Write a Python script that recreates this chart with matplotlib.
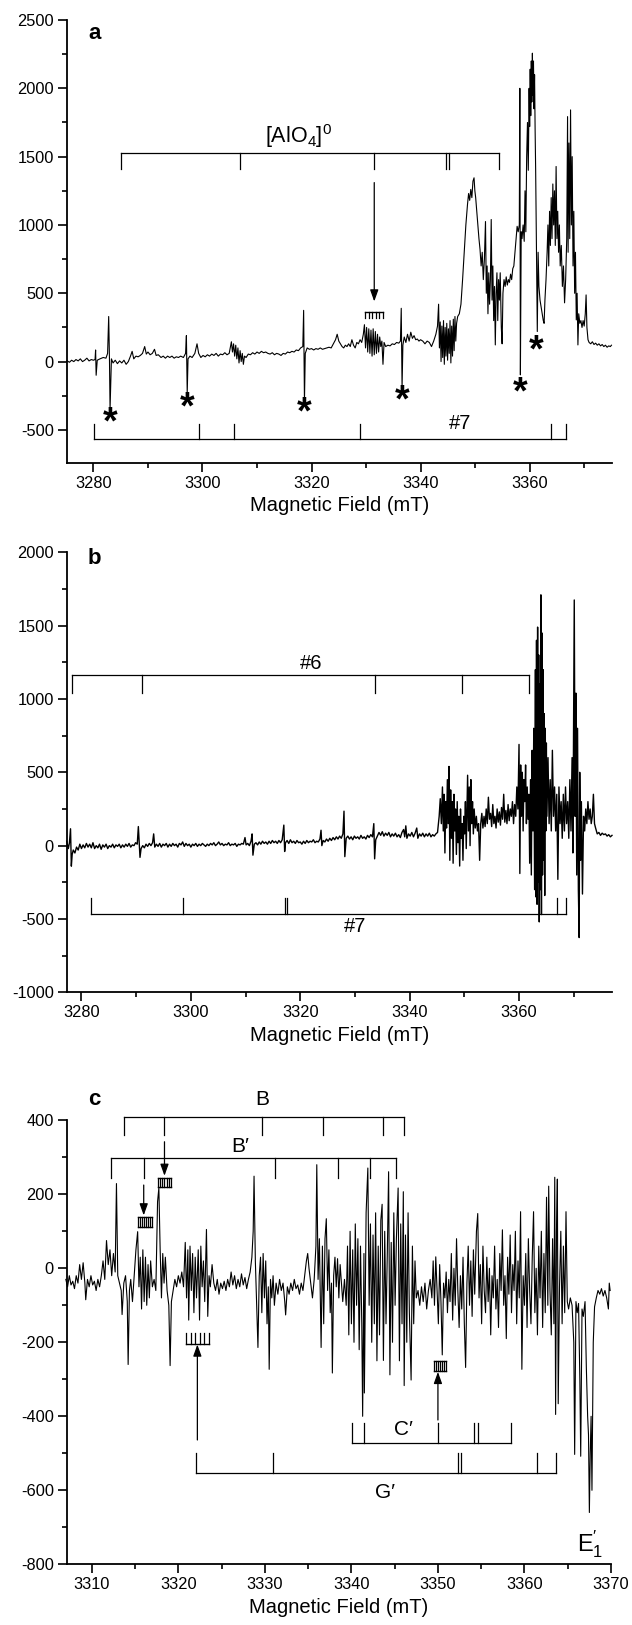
import numpy as np
import matplotlib
matplotlib.use("Agg")
import matplotlib.pyplot as plt
from matplotlib.ticker import MultipleLocator

plt.rcParams['font.family'] = ['Liberation Sans', 'DejaVu Sans']
plt.rcParams['mathtext.fontset'] = 'custom'
plt.rcParams['mathtext.rm'] = 'Liberation Sans'
plt.rcParams['mathtext.it'] = 'Liberation Sans:italic'
plt.rcParams['mathtext.bf'] = 'Liberation Sans:bold'
plt.rcParams['axes.unicode_minus'] = False

# ---------------- panel a data ----------------
a_field = [
    3275.2, 3275.6, 3276.0, 3276.4, 3276.8, 3277.2, 3277.6, 3278.0, 3278.4, 3278.8,
    3279.2, 3279.6, 3280.0, 3280.3, 3280.4, 3280.5, 3280.7, 3281.2, 3281.8, 3282.3,
    3282.6, 3282.8, 3282.95, 3283.05, 3283.3, 3283.6, 3284.0, 3284.4, 3284.8, 3285.2,
    3285.6, 3286.0, 3286.4, 3286.8, 3287.1, 3287.4, 3287.8, 3288.2, 3288.6, 3289.0,
    3289.4, 3289.7, 3290.0, 3290.4, 3290.8, 3291.2, 3291.5, 3291.9, 3292.4, 3292.8,
    3293.2, 3293.6, 3294.0, 3294.4, 3294.8, 3295.2, 3295.6, 3296.0, 3296.5, 3296.9,
    3297.05, 3297.2, 3297.35, 3297.7, 3298.1, 3298.6, 3299.0, 3299.3, 3299.7, 3300.1,
    3300.5, 3300.9, 3301.3, 3301.7, 3302.1, 3302.5, 3302.9, 3303.3, 3303.7, 3304.1,
    3304.5, 3304.9, 3305.3, 3305.5, 3305.7, 3305.9, 3306.1, 3306.3, 3306.5, 3306.7,
    3306.9, 3307.1, 3307.3, 3307.5, 3307.7, 3308.0, 3308.4, 3308.8, 3309.2, 3309.6,
    3310.0, 3310.4, 3310.8, 3311.2, 3311.6, 3312.0, 3312.4, 3312.8, 3313.2, 3313.6,
    3314.0, 3314.4, 3314.8, 3315.2, 3315.6, 3316.0, 3316.4, 3316.8, 3317.2, 3317.6,
    3318.0, 3318.4, 3318.55, 3318.7, 3318.85, 3319.2, 3319.6, 3320.0, 3320.4, 3320.8,
    3321.2, 3321.6, 3322.0, 3322.4, 3322.8, 3323.2, 3323.6, 3324.0, 3324.4, 3324.7,
    3325.0, 3325.3, 3325.6, 3325.9, 3326.2, 3326.5, 3326.8, 3327.1, 3327.4, 3327.7,
    3328.0, 3328.3, 3328.6, 3328.9, 3329.2, 3329.5, 3329.7, 3329.9, 3330.1, 3330.3,
    3330.5, 3330.7, 3330.9, 3331.1, 3331.3, 3331.5, 3331.7, 3331.9, 3332.1, 3332.3,
    3332.5, 3332.7, 3332.9, 3333.1, 3333.3, 3333.6, 3334.0, 3334.4, 3334.8, 3335.2,
    3335.6, 3336.0, 3336.3, 3336.45, 3336.6, 3336.75, 3337.0, 3337.3, 3337.6, 3337.9,
    3338.2, 3338.5, 3338.8, 3339.1, 3339.4, 3339.7, 3340.0, 3340.4, 3340.8, 3341.2,
    3341.6, 3342.0, 3342.4, 3342.8, 3343.1, 3343.3, 3343.45, 3343.6, 3343.75, 3343.9,
    3344.05, 3344.2, 3344.35, 3344.5, 3344.65, 3344.8, 3344.95, 3345.1, 3345.25, 3345.4,
    3345.55, 3345.7, 3345.85, 3346.0, 3346.15, 3346.3, 3346.45, 3346.6, 3346.8, 3347.1,
    3347.4, 3347.7, 3348.0, 3348.3, 3348.6, 3348.8, 3349.0, 3349.2, 3349.4, 3349.6,
    3349.8, 3349.95, 3350.1, 3350.3, 3350.5, 3350.7, 3350.9, 3351.1, 3351.3, 3351.5,
    3351.7, 3351.9, 3352.05, 3352.2, 3352.35, 3352.5, 3352.65, 3352.8, 3352.95, 3353.1,
    3353.25, 3353.4, 3353.55, 3353.7, 3353.85, 3354.0, 3354.15, 3354.3, 3354.45, 3354.6,
    3354.8, 3354.95, 3355.1, 3355.3, 3355.5, 3355.7, 3355.9, 3356.1, 3356.3, 3356.5,
    3356.7, 3356.9, 3357.1, 3357.3, 3357.5, 3357.7, 3357.9, 3358.1, 3358.2, 3358.3,
    3358.45, 3358.6, 3358.8, 3359.0, 3359.15, 3359.3, 3359.45, 3359.6, 3359.75, 3359.9,
    3360.0, 3360.1, 3360.2, 3360.3, 3360.4, 3360.5, 3360.6, 3360.7, 3360.8, 3360.9,
    3361.0, 3361.1, 3361.2, 3361.4, 3361.55, 3361.7, 3361.9, 3362.1, 3362.3, 3362.5,
    3362.65, 3362.8, 3363.0, 3363.2, 3363.35, 3363.5, 3363.65, 3363.8, 3363.95, 3364.1,
    3364.25, 3364.4, 3364.55, 3364.7, 3364.85, 3365.0, 3365.15, 3365.3, 3365.45, 3365.6,
    3365.8, 3366.0, 3366.2, 3366.4, 3366.6, 3366.8, 3366.95, 3367.05, 3367.2, 3367.35,
    3367.5, 3367.65, 3367.8, 3367.95, 3368.1, 3368.25, 3368.4, 3368.55, 3368.7, 3368.85,
    3369.0, 3369.2, 3369.4, 3369.6, 3369.8, 3370.0, 3370.2, 3370.35, 3370.5, 3370.7,
    3370.9, 3371.2, 3371.5, 3371.8, 3372.1, 3372.4, 3372.7, 3373.0, 3373.3, 3373.6,
    3373.9, 3374.2, 3374.5, 3374.8, 3375.0,
]
a_signal = [
    5, -5, 10, 0, 15, 5, 20, 0, 10, 25,
    5, 15, 10, 15, 85, -100, 10, 20, 30, 25,
    60, 330, 0, -350, 20, -10, 10, -15, 5, -10,
    10, -20, 0, 40, 75, 20, 40, 35, 45, 60,
    110, 55, 70, 50, 60, 90, 45, 50, 30, 40,
    25, 40, 30, 40, 25, 35, 30, 40, 30, 60,
    190, -230, 20, 40, 30, 60, 130, 60, 30, 45,
    35, 50, 40, 55, 45, 60, 40, 55, 50, 65,
    50, 60, 145, 70, 130, 40, 120, 20, 100, -10,
    80, 0, 60, -20, 40, 30, 55, 50, 65, 55,
    70, 60, 75, 65, 70, 60, 55, 65, 50, 60,
    55, 45, 60, 55, 70, 65, 75, 70, 85, 80,
    100, 110, 375, -290, 60, 100, 90, 95, 85, 95,
    90, 100, 90, 95, 100, 105, 100, 130, 160, 200,
    150, 130, 110, 100, 120, 110, 130, 110, 160, 120,
    100, 140, 130, 160, 140, 200, 270, 100, 250, 70,
    240, 60, 230, 40, 240, 50, 220, 60, 200, 70,
    180, 110, 150, -20, 140, 110, 120, 115, 130, 125,
    140, 135, 150, 390, -190, 120, 180, 140, 200, 150,
    215, 170, 190, 160, 165, 150, 160, 150, 130, 150,
    140, 110, 150, 200, 260, 420, 100, 290, 0, 260,
    30, 300, -20, 250, 40, 280, 10, 240, 60, 300,
    -10, 260, 40, 310, 80, 330, 150, 280, 330, 350,
    420, 600, 800, 1000, 1150, 1230, 1180, 1260, 1200, 1320,
    1345, 1250, 1200, 1100, 1000, 900, 820, 700, 800, 600,
    750, 1025, 500, 700, 350, 650, 420, 600, 1040, 450,
    700, 300, 550, 122, 500, 650, 300, 600, 450, 650,
    250, 130, 500, 600, 550, 620, 560, 600, 580, 640,
    600, 680, 700, 800, 900, 990, 950, 1000, 2000, -97,
    950, 900, 1000, 880, 1250, 950, 1500, 1750, 1400, 2000,
    1720, 2140, 1800, 2200, 1900, 2257, 1950, 2200, 1850, 2100,
    1700, 1400, 1000, 220, 800, 550, 450, 400, 350, 300,
    280, 450, 600, 800, 1000, 700, 1100, 850, 1200, 900,
    1300, 1000, 1250, 850, 1428, 900, 1100, 800, 1000, 700,
    850, 550, 700, 430, 600, 900, 1793, 800, 1600, 900,
    1842, 1000, 1500, 700, 1100, 500, 800, 305, 500, 122,
    350, 280, 300, 250, 300, 260, 350, 488, 250, 160,
    140, 130, 145, 125, 135, 120, 130, 115, 125, 110,
    120, 105, 115, 110, 120,
]

# ---------------- panel b data ----------------
b_field = [
    3277.3, 3277.6, 3277.8, 3278.0, 3278.15, 3278.3, 3278.5, 3278.8, 3279.1, 3279.4,
    3279.7, 3280.0, 3280.3, 3280.6, 3280.9, 3281.2, 3281.5, 3281.8, 3282.1, 3282.4,
    3282.7, 3283.0, 3283.3, 3283.6, 3283.9, 3284.2, 3284.5, 3284.8, 3285.1, 3285.4,
    3285.7, 3286.0, 3286.3, 3286.6, 3286.9, 3287.2, 3287.5, 3287.8, 3288.1, 3288.4,
    3288.7, 3289.0, 3289.3, 3289.6, 3289.9, 3290.2, 3290.4, 3290.55, 3290.7, 3290.9,
    3291.2, 3291.5, 3291.8, 3292.1, 3292.4, 3292.7, 3293.0, 3293.2, 3293.4, 3293.7,
    3294.0, 3294.3, 3294.6, 3294.9, 3295.2, 3295.5, 3295.8, 3296.1, 3296.4, 3296.7,
    3297.0, 3297.3, 3297.6, 3297.9, 3298.2, 3298.5, 3298.8, 3299.1, 3299.4, 3299.7,
    3300.0, 3300.3, 3300.6, 3300.9, 3301.2, 3301.5, 3301.8, 3302.1, 3302.4, 3302.7,
    3303.0, 3303.3, 3303.6, 3303.9, 3304.2, 3304.5, 3304.8, 3305.1, 3305.4, 3305.7,
    3306.0, 3306.3, 3306.6, 3306.9, 3307.2, 3307.5, 3307.8, 3308.1, 3308.4, 3308.7,
    3309.0, 3309.3, 3309.6, 3309.9, 3310.1, 3310.4, 3310.7, 3311.0, 3311.2, 3311.35,
    3311.6, 3311.9, 3312.2, 3312.5, 3312.8, 3313.1, 3313.4, 3313.7, 3314.0, 3314.3,
    3314.6, 3314.9, 3315.2, 3315.5, 3315.8, 3316.1, 3316.4, 3316.7, 3317.0, 3317.15,
    3317.3, 3317.6, 3317.9, 3318.2, 3318.5, 3318.8, 3319.1, 3319.4, 3319.7, 3320.0,
    3320.3, 3320.6, 3320.9, 3321.2, 3321.5, 3321.8, 3322.1, 3322.4, 3322.7, 3323.0,
    3323.3, 3323.6, 3323.8, 3323.95, 3324.2, 3324.5, 3324.8, 3325.1, 3325.4, 3325.7,
    3326.0, 3326.3, 3326.6, 3326.9, 3327.2, 3327.5, 3327.8, 3328.0, 3328.15, 3328.4,
    3328.7, 3329.0, 3329.3, 3329.6, 3329.9, 3330.2, 3330.5, 3330.8, 3331.1, 3331.4,
    3331.7, 3332.0, 3332.3, 3332.6, 3332.9, 3333.2, 3333.45, 3333.6, 3333.8, 3334.1,
    3334.4, 3334.7, 3335.0, 3335.3, 3335.6, 3335.9, 3336.2, 3336.5, 3336.8, 3337.1,
    3337.4, 3337.7, 3338.0, 3338.3, 3338.6, 3338.9, 3339.1, 3339.3, 3339.5, 3339.8,
    3340.1, 3340.4, 3340.7, 3341.0, 3341.3, 3341.5, 3341.8, 3342.1, 3342.4, 3342.7,
    3343.0, 3343.3, 3343.6, 3343.9, 3344.2, 3344.5, 3344.8, 3345.1, 3345.4, 3345.6,
    3345.8, 3346.0, 3346.15, 3346.3, 3346.45, 3346.6, 3346.75, 3346.9, 3347.05, 3347.2,
    3347.35, 3347.5, 3347.65, 3347.8, 3347.95, 3348.1, 3348.25, 3348.4, 3348.55, 3348.7,
    3348.85, 3349.0, 3349.15, 3349.3, 3349.45, 3349.6, 3349.75, 3349.9, 3350.05, 3350.2,
    3350.35, 3350.6, 3350.75, 3350.9, 3351.05, 3351.2, 3351.35, 3351.5, 3351.65, 3351.8,
    3352.0, 3352.2, 3352.4, 3352.6, 3352.8, 3353.0, 3353.2, 3353.4, 3353.6, 3353.8,
    3354.0, 3354.2, 3354.4, 3354.6, 3354.8, 3355.0, 3355.2, 3355.4, 3355.6, 3355.8,
    3356.0, 3356.2, 3356.4, 3356.6, 3356.8, 3357.0, 3357.2, 3357.4, 3357.6, 3357.8,
    3358.0, 3358.2, 3358.4, 3358.6, 3358.8, 3359.0, 3359.2, 3359.4, 3359.6, 3359.8,
    3360.0, 3360.15, 3360.3, 3360.45, 3360.6, 3360.75, 3360.9, 3361.05, 3361.2, 3361.35,
    3361.5, 3361.65, 3361.8, 3361.95, 3362.1, 3362.25, 3362.4, 3362.55, 3362.7, 3362.85,
    3363.0, 3363.1, 3363.2, 3363.3, 3363.4, 3363.5, 3363.6, 3363.7, 3363.8, 3363.9,
    3364.0, 3364.1, 3364.2, 3364.3, 3364.4, 3364.5, 3364.6, 3364.7, 3364.8, 3364.9,
    3365.0, 3365.1, 3365.3, 3365.5, 3365.7, 3365.9, 3366.1, 3366.3, 3366.5, 3366.7,
    3366.9, 3367.1, 3367.3, 3367.5, 3367.7, 3367.9, 3368.1, 3368.3, 3368.5, 3368.7,
    3368.9, 3369.1, 3369.3, 3369.5, 3369.7, 3369.85, 3370.0, 3370.1, 3370.25, 3370.4,
    3370.55, 3370.7, 3370.85, 3371.0, 3371.1, 3371.25, 3371.4, 3371.6, 3371.8, 3372.0,
    3372.2, 3372.4, 3372.6, 3372.8, 3373.0, 3373.2, 3373.4, 3373.6, 3373.8, 3374.0,
    3374.3, 3374.6, 3374.9, 3375.2, 3375.5, 3375.8, 3376.1, 3376.4, 3376.7, 3377.0,
]
b_signal = [
    30, -20, 20, 115, -140, -60, -30, -50, -10, -30,
    10, -20, 5, -15, 15, -10, 10, -15, 20, -20,
    0, -15, 10, -25, 5, -10, 10, -20, 0, -10,
    10, -15, 5, -5, 10, -15, 5, -10, 10, -5,
    15, -10, 5, 0, 20, 10, 130, 20, -80, -20,
    0, -15, 10, -5, 15, 0, 20, 80, -10, 10,
    -5, 15, -10, 10, 0, 15, -10, 10, -5, 15,
    0, 10, -10, 15, 5, 25, -5, 15, 0, 10,
    -10, 10, 0, 15, -5, 10, 0, 15, 5, -5,
    10, 0, 15, 5, 20, 0, 10, 25, 5, 15,
    0, 10, 5, 20, 0, 10, 5, 15, -5, 10,
    5, 15, 10, 55, 5, 15, 0, 30, 80, -65,
    10, 20, 5, 25, 10, 30, 15, 25, 10, 30,
    15, 35, 20, 30, 15, 35, 20, 40, 140, -40,
    20, 35, 15, 40, 20, 30, 15, 35, 20, 25,
    10, 30, 15, 35, 20, 30, 25, 40, 20, 30,
    25, 45, 105, 0, 35, 25, 45, 30, 50, 35,
    55, 40, 60, 45, 65, 50, 80, 235, -75, 50,
    65, 45, 60, 40, 65, 50, 60, 45, 70, 50,
    60, 45, 70, 55, 75, 60, 150, -90, 40, 65,
    90, 70, 95, 65, 85, 70, 90, 60, 80, 65,
    85, 60, 75, 55, 90, 110, 60, 135, 50, 80,
    65, 90, 60, 85, 120, 50, 80, 65, 85, 60,
    80, 65, 85, 60, 75, 65, 80, 90, 200, 320,
    150, 400, 100, 350, -50, 300, 120, 450, 150, 540,
    -100, 380, 50, 300, -120, 350, 100, 250, -60, 300,
    20, 200, -139, 250, 50, 150, -100, 200, 80, 300,
    -20, 480, 100, 400, 0, 450, 150, 300, 80, 250,
    120, 200, 100, 150, -100, 150, 220, 120, 200, 130,
    250, 150, 330, 180, 220, 130, 280, 150, 200, 120,
    250, 160, 230, 140, 260, 180, 350, 160, 240, 150,
    280, 170, 250, 200, 300, 150, 280, 200, 400, 250,
    690, -190, 550, 200, 500, 100, 450, 300, 550, 150,
    400, 180, 350, -120, 450, -200, 650, 100, 800, -300,
    1200, -350, 1400, -400, 1490, -250, 1300, -520, 1100, -300,
    1710, -470, 1450, -200, 1200, -100, 900, -340, 800, 100,
    700, 200, 600, 150, 450, 100, 650, 200, 400, 100,
    350, -230, 400, 150, 300, 50, 350, 100, 400, 150,
    300, 50, 450, 100, 600, -50, 1000, 1675, 200, 1040,
    -200, 800, -300, -627, 500, -100, 300, -330, 200, 100,
    250, 150, 300, 180, 250, 150, 200, 350, 150, 120,
    80, 90, 70, 85, 75, 80, 65, 75, 60, 70,
]

# ---------------- panel c data ----------------
c_field = [
    3307.0, 3307.2, 3307.4, 3307.6, 3307.8, 3308.0, 3308.2, 3308.4, 3308.6, 3308.8,
    3309.0, 3309.2, 3309.3, 3309.5, 3309.7, 3309.9, 3310.1, 3310.3, 3310.5, 3310.7,
    3310.9, 3311.1, 3311.3, 3311.5, 3311.7, 3311.9, 3312.1, 3312.3, 3312.5, 3312.7,
    3312.85, 3313.0, 3313.2, 3313.4, 3313.5, 3313.7, 3313.9, 3314.1, 3314.2, 3314.35,
    3314.5, 3314.7, 3314.9, 3315.1, 3315.3, 3315.45, 3315.6, 3315.75, 3315.9, 3316.05,
    3316.2, 3316.35, 3316.5, 3316.65, 3316.8, 3317.0, 3317.2, 3317.4, 3317.6, 3317.75,
    3317.9, 3318.05, 3318.2, 3318.35, 3318.5, 3318.7, 3318.9, 3319.05, 3319.2, 3319.4,
    3319.6, 3319.8, 3320.0, 3320.2, 3320.4, 3320.6, 3320.8, 3320.95, 3321.1, 3321.2,
    3321.35, 3321.5, 3321.65, 3321.8, 3321.95, 3322.1, 3322.3, 3322.45, 3322.6, 3322.75,
    3322.9, 3323.05, 3323.25, 3323.4, 3323.55, 3323.7, 3323.9, 3324.1, 3324.3, 3324.5,
    3324.7, 3324.9, 3325.1, 3325.3, 3325.5, 3325.7, 3325.9, 3326.1, 3326.3, 3326.5,
    3326.7, 3326.9, 3327.1, 3327.3, 3327.5, 3327.7, 3327.9, 3328.1, 3328.3, 3328.5,
    3328.65, 3328.75, 3328.9, 3329.05, 3329.2, 3329.35, 3329.5, 3329.65, 3329.8, 3329.95,
    3330.1, 3330.25, 3330.4, 3330.5, 3330.65, 3330.8, 3330.95, 3331.1, 3331.3, 3331.5,
    3331.7, 3331.9, 3332.1, 3332.3, 3332.4, 3332.6, 3332.8, 3333.0, 3333.2, 3333.4,
    3333.6, 3333.8, 3334.0, 3334.2, 3334.4, 3334.6, 3334.8, 3334.95, 3335.1, 3335.3,
    3335.5, 3335.7, 3335.9, 3336.0, 3336.15, 3336.3, 3336.5, 3336.65, 3336.8, 3336.95,
    3337.1, 3337.25, 3337.4, 3337.55, 3337.7, 3337.8, 3337.95, 3338.1, 3338.25, 3338.4,
    3338.55, 3338.7, 3338.85, 3339.0, 3339.2, 3339.4, 3339.55, 3339.7, 3339.85, 3340.0,
    3340.15, 3340.3, 3340.45, 3340.6, 3340.75, 3340.9, 3341.05, 3341.2, 3341.3, 3341.45,
    3341.5, 3341.7, 3341.9, 3342.05, 3342.2, 3342.35, 3342.5, 3342.65, 3342.8, 3342.95,
    3343.1, 3343.25, 3343.4, 3343.55, 3343.7, 3343.85, 3344.0, 3344.15, 3344.3, 3344.45,
    3344.6, 3344.75, 3344.9, 3345.05, 3345.2, 3345.4, 3345.55, 3345.7, 3345.85, 3346.0,
    3346.1, 3346.25, 3346.4, 3346.55, 3346.7, 3346.9, 3347.05, 3347.2, 3347.35, 3347.5,
    3347.7, 3347.9, 3348.1, 3348.3, 3348.5, 3348.7, 3348.9, 3349.1, 3349.3, 3349.45,
    3349.6, 3349.75, 3349.9, 3350.05, 3350.2, 3350.35, 3350.5, 3350.65, 3350.8, 3350.95,
    3351.1, 3351.25, 3351.4, 3351.55, 3351.7, 3351.85, 3352.0, 3352.15, 3352.3, 3352.45,
    3352.6, 3352.75, 3352.9, 3353.05, 3353.2, 3353.35, 3353.5, 3353.65, 3353.8, 3353.95,
    3354.1, 3354.25, 3354.45, 3354.6, 3354.75, 3354.9, 3355.05, 3355.2, 3355.35, 3355.5,
    3355.65, 3355.8, 3355.95, 3356.1, 3356.25, 3356.4, 3356.55, 3356.7, 3356.85, 3357.0,
    3357.15, 3357.3, 3357.45, 3357.6, 3357.75, 3357.9, 3358.05, 3358.2, 3358.35, 3358.5,
    3358.65, 3358.8, 3358.95, 3359.1, 3359.25, 3359.4, 3359.55, 3359.7, 3359.85, 3360.0,
    3360.15, 3360.3, 3360.45, 3360.6, 3360.75, 3360.9, 3361.05, 3361.2, 3361.35, 3361.5,
    3361.65, 3361.8, 3361.95, 3362.1, 3362.25, 3362.4, 3362.55, 3362.7, 3362.8, 3362.95,
    3363.1, 3363.25, 3363.4, 3363.5, 3363.6, 3363.7, 3363.8, 3363.9, 3364.05, 3364.2,
    3364.35, 3364.5, 3364.65, 3364.8, 3364.95, 3365.1, 3365.3, 3365.5, 3365.7, 3365.8,
    3365.95, 3366.1, 3366.25, 3366.4, 3366.5, 3366.65, 3366.8, 3367.0, 3367.15, 3367.3,
    3367.4, 3367.5, 3367.6, 3367.7, 3367.8, 3367.95, 3368.1, 3368.3, 3368.5, 3368.7,
    3368.9, 3369.1, 3369.3, 3369.5, 3369.7, 3369.8, 3369.9,
]
c_signal = [
    -30, -50, -20, -45, -35, -55, -20, -40, 10, -30,
    15, -40, -85, -30, -50, -20, -45, -35, -60, -30,
    -50, -20, 20, -30, 75, 10, 50, -20, 40, -10,
    229, -20, -40, -60, -125, -40, -20, -90, -260, -60,
    -30, -90, -20, 50, 99, -50, 30, -110, 50, -90,
    30, -100, 10, -80, 20, -50, -30, -60, 180, 217,
    50, -80, 40, -40, 30, -60, -100, -263, -90, -60,
    -30, -50, -20, -40, -10, -50, 70, -80, 50, -140,
    60, -60, 40, -120, 30, -80, 50, -140, 60, -50,
    20, -90, 105, -130, -20, -50, 10, -40, -60, -30,
    -70, -40, -55, -35, -60, -30, -50, -10, -45, -20,
    -55, -30, -50, -15, -45, -25, -55, -30, -10, 30,
    100, 249, 20, -100, -214, -20, 30, -120, 40, -80,
    20, -150, -50, -273, -30, -80, -20, -100, -40, -70,
    -30, -60, -40, -90, -126, -50, -70, -40, -60, -30,
    -55, -45, -70, -40, -60, -20, 20, 40, 0, -40,
    -80, -30, 60, 280, -30, 80, -214, 60, -150, 80,
    134, -60, 50, -120, -40, -283, -20, 30, -50, 26,
    -80, 10, -40, -90, -30, -100, 60, -180, 100, -150,
    50, -200, 120, -100, 80, -220, 60, -150, -400, 40,
    -337, 150, 271, -100, 120, -200, 90, -150, 150, -250,
    60, -180, 130, 173, -249, 100, -150, 40, 261, -288,
    70, -200, 150, -100, 80, 217, -250, 120, -150, 207,
    -317, 90, -200, 150, -120, -302, 60, -150, 20, -80,
    -60, -100, -50, -90, -40, -110, -60, -30, -80, 20,
    -100, 31, -60, -150, 10, -90, -234, -40, -80, -10,
    -120, -30, -90, 40, -140, 0, -100, 80, -60, -160,
    -20, -110, 30, -150, -268, -40, 60, -100, 20, -130,
    50, -70, 100, 148, -80, 10, -150, 60, -60, -120,
    30, -90, 0, -180, -20, -80, 60, -110, -30, -160,
    40, -60, 104, -100, -20, -190, 30, -70, 90, -120,
    10, -60, 100, -150, 20, -80, 153, -273, -20, -100,
    40, -160, 80, -60, -150, 30, 153, -120, 0, -180,
    60, -80, 100, -160, 40, -120, 192, -100, 222, -60,
    -180, 80, -150, 246, -395, 100, 241, -366, -50, 100,
    -150, 60, -120, 153, -90, -110, -80, -100, -200, -503,
    -90, -120, -95, -300, -508, -110, -130, -90, -268, -400,
    -450, -660, -500, -400, -600, -200, -104, -80, -60, -70,
    -55, -75, -60, -80, -110, -40, -60,
]

# ---------------- annotation content ----------------
alo4_lines = [3285.1, 3306.9, 3331.5, 3344.7, 3345.2, 3354.3]
a_n7_lines = [3280.1, 3299.3, 3305.8, 3328.9, 3363.9, 3366.6]
a_star_pos = [(3283.0, -451), (3297.1, -345), (3318.7, -378), (3336.6, -293),
              (3358.2, -232), (3361.2, 73)]
b_n6_lines = [3278.2, 3291.1, 3333.6, 3349.6, 3361.8]
b_n7_lines = [3281.8, 3298.6, 3317.3, 3317.6, 3367.0, 3368.5]
c_B_lines = [3313.7, 3318.4, 3329.7, 3336.7, 3343.6, 3346.1]
c_Bp_lines = [3312.2, 3316.0, 3331.2, 3338.5, 3342.1, 3345.2]
c_Cp_lines = [3340.1, 3341.5, 3350.0, 3354.2, 3354.6, 3358.4]
c_Gp_lines = [3322.0, 3330.9, 3352.3, 3352.7, 3361.5, 3363.7]

# ---------------- figure ----------------
W, H = 632, 1625
fig = plt.figure(figsize=(W / 100, H / 100), dpi=100)


def px_axes(left, top, right, bottom):
    return fig.add_axes([left / W, 1 - bottom / H, (right - left) / W, (bottom - top) / H])


ax_a = px_axes(66.7, 20.0, 612.0, 462.7)
ax_b = px_axes(66.7, 552.3, 612.0, 992.3)
ax_c = px_axes(66.7, 1120.3, 611.0, 1564.3)

LW_BR = 0.9


def style(ax):
    for s in ['top', 'right']:
        ax.spines[s].set_visible(False)
    for s in ['left', 'bottom']:
        ax.spines[s].set_linewidth(1.3)
    ax.tick_params(which='major', direction='out', length=6.3, width=1.2,
                   labelsize=11.8, pad=3)
    ax.tick_params(which='minor', direction='out', length=3.5, width=1.2)
    ax.set_xlabel('Magnetic Field (mT)', fontsize=14.5, labelpad=4)


def bracket(ax, ticks, y, tip):
    ax.plot([min(ticks), max(ticks)], [y, y], color='k', lw=LW_BR)
    for t in ticks:
        ax.plot([t, t], [y, tip], color='k', lw=LW_BR)


def arrow(ax, x, y_from, y_to):
    ax.annotate('', xy=(x, y_to), xytext=(x, y_from),
                arrowprops=dict(arrowstyle='-|>,head_length=0.7,head_width=0.25',
                                color='k', lw=0.9, shrinkA=0, shrinkB=0))


def comb(ax, x0, x1, y_line, y_tip, n, closed=False):
    ax.plot([x0, x1], [y_line, y_line], color='k', lw=1.0)
    if closed:
        ax.plot([x0, x1], [y_tip, y_tip], color='k', lw=1.0)
    for xi in np.linspace(x0, x1, n):
        ax.plot([xi, xi], [y_line, y_tip], color='k', lw=0.9)


# ---- panel a ----
ax = ax_a
ax.plot(a_field, a_signal, color='k', lw=0.8)
ax.set_xlim(3275.1, 3375.1)
ax.set_ylim(-740, 2500)
ax.xaxis.set_major_locator(MultipleLocator(20))
ax.xaxis.set_minor_locator(MultipleLocator(10))
ax.yaxis.set_major_locator(MultipleLocator(500))
ax.yaxis.set_minor_locator(MultipleLocator(250))
style(ax)
bracket(ax, alo4_lines, 1530, 1408)
bracket(ax, a_n7_lines, -568, -456)
arrow(ax, 3331.5, 1310, 440)
comb(ax, 3329.8, 3333.1, 366, 317, 6)
ax.text(3317.6, 1650, r'[AlO$_4$]$^0$', fontsize=15.5, ha='center', va='center')
ax.text(3347.2, -455, '#7', fontsize=14.5, ha='center', va='center')
for (sx, sy) in a_star_pos:
    ax.text(sx, sy, '*', fontsize=27, fontweight='bold', ha='center', va='center')
ax.text(3280.3, 2400, 'a', fontsize=16, fontweight='bold', ha='center', va='center')

# ---- panel b ----
ax = ax_b
ax.plot(b_field, b_signal, color='k', lw=1.0)
ax.set_xlim(3277.3, 3377.0)
ax.set_ylim(-1000, 2000)
ax.xaxis.set_major_locator(MultipleLocator(20))
ax.xaxis.set_minor_locator(MultipleLocator(10))
ax.yaxis.set_major_locator(MultipleLocator(500))
ax.yaxis.set_minor_locator(MultipleLocator(250))
style(ax)
bracket(ax, b_n6_lines, 1164, 1042)
bracket(ax, b_n7_lines, -467, -359)
ax.text(3321.9, 1240, '#6', fontsize=14.5, ha='center', va='center')
ax.text(3330.0, -553, '#7', fontsize=14.5, ha='center', va='center')
ax.text(3282.4, 1955, 'b', fontsize=16, fontweight='bold', ha='center', va='center')

# ---- panel c ----
ax = ax_c
ax.plot(c_field, c_signal, color='k', lw=0.8)
ax.set_xlim(3307.1, 3370.0)
ax.set_ylim(-800, 400)
ax.xaxis.set_major_locator(MultipleLocator(10))
ax.xaxis.set_minor_locator(MultipleLocator(5))
ax.yaxis.set_major_locator(MultipleLocator(200))
ax.yaxis.set_minor_locator(MultipleLocator(100))
style(ax)
bracket(ax, c_B_lines, 410, 359)
bracket(ax, c_Bp_lines, 297, 245)
bracket(ax, c_Cp_lines, -471, -418)
bracket(ax, c_Gp_lines, -552, -498)
arrow(ax, 3318.4, 342, 250)
arrow(ax, 3316.0, 225, 143)
arrow(ax, 3322.2, -464, -206)
arrow(ax, 3350.0, -410, -280)
comb(ax, 3317.7, 3319.1, 244, 219, 7, closed=True)
comb(ax, 3315.3, 3316.9, 140, 111, 8, closed=True)
comb(ax, 3320.9, 3323.5, -204, -175, 6)
comb(ax, 3349.5, 3350.9, -250, -278, 7, closed=True)
ax.text(3329.7, 455, 'B', fontsize=15, ha='center', va='center', clip_on=False)
ax.text(3327.1, 330, 'B\u2032', fontsize=15, ha='center', va='center')
ax.text(3346.0, -435, 'C\u2032', fontsize=15, ha='center', va='center')
ax.text(3343.9, -606, 'G\u2032', fontsize=15, ha='center', va='center')
ax.text(3367.6, -745, r'E$_1^{\prime}$', fontsize=17, ha='center', va='center')
ax.text(3310.3, 455, 'c', fontsize=16, fontweight='bold', ha='center', va='center',
        clip_on=False)

for a_ in (ax_a, ax_b, ax_c):
    for ln in a_.lines:
        ln.set_clip_on(False)

fig.savefig('out.png', dpi=100)
